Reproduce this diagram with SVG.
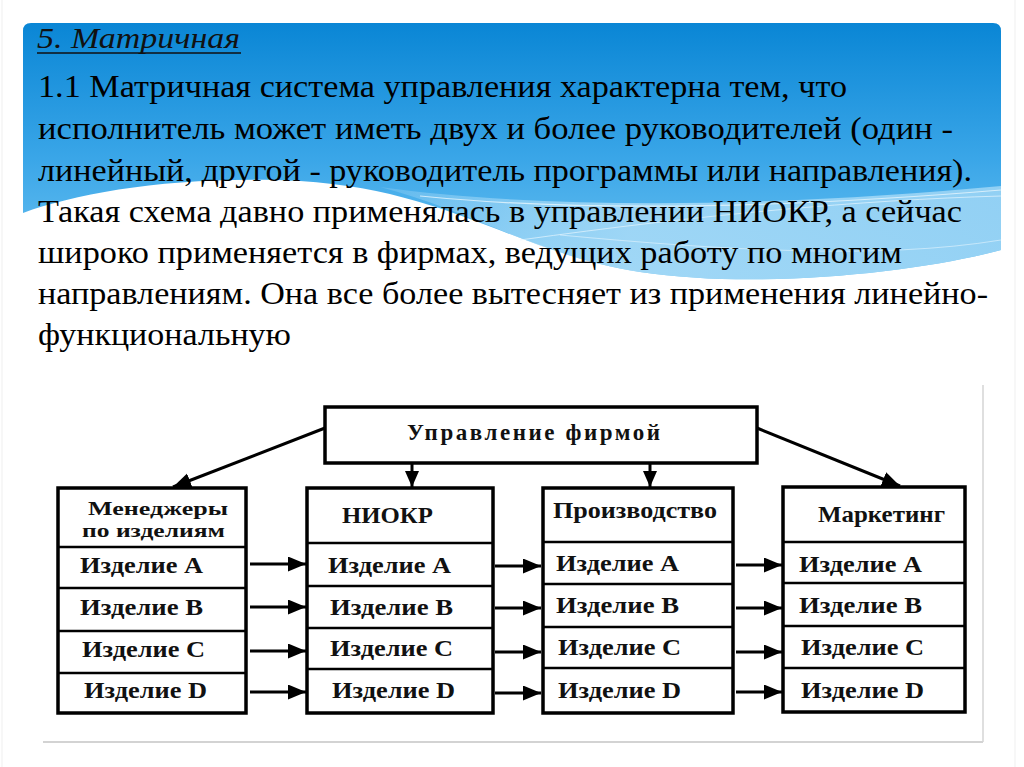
<svg xmlns="http://www.w3.org/2000/svg" width="1024" height="767" viewBox="0 0 1024 767">
<defs>
<linearGradient id="blue" x1="0" y1="23" x2="0" y2="270" gradientUnits="userSpaceOnUse">
<stop offset="0" stop-color="#0a86d5"/>
<stop offset="0.55" stop-color="#3aa6e8"/>
<stop offset="1" stop-color="#6cc2f1"/>
</linearGradient>
<linearGradient id="light" x1="380" y1="0" x2="1001" y2="0" gradientUnits="userSpaceOnUse">
<stop offset="0" stop-color="#bfe5fa" stop-opacity="0.2"/>
<stop offset="0.4" stop-color="#a9dbf7" stop-opacity="0.85"/>
<stop offset="1" stop-color="#9ad4f5" stop-opacity="0.9"/>
</linearGradient>
<marker id="ah" markerUnits="userSpaceOnUse" markerWidth="20" markerHeight="16" refX="18" refY="7.5" orient="auto">
<path d="M0,0 L18,7.5 L0,15 z" fill="#000"/>
</marker>
<marker id="av" markerUnits="userSpaceOnUse" markerWidth="18" markerHeight="16" refX="16" refY="7" orient="auto">
<path d="M0,0 L16,7 L0,14 z" fill="#000"/>
</marker>
<style>
.body{font-size:31px;fill:#000}
.head{font-size:30px;font-style:italic;fill:#111}
.box{fill:#fff;stroke:#000;stroke-width:3.5}
.div{stroke:#000;stroke-width:2.5}
.lbl{font-size:24px;font-weight:bold;fill:#111}
.hdr{font-size:23px;font-weight:bold;fill:#111}
.hdr2{font-size:19px;font-weight:bold;fill:#111}
.con{stroke:#000;stroke-width:3;fill:none}
</style>
</defs>
<rect width="1024" height="767" fill="#fff"/>
<line x1="2" y1="0" x2="2" y2="767" stroke="#efefef" stroke-width="1"/>
<line x1="1015" y1="0" x2="1015" y2="767" stroke="#efefef" stroke-width="1"/>

<g id="banner">
<path d="M23,213 L23,31 Q23,23 31,23 L993,23 Q1001,23 1001,31 L1001,250 C920,272 760,290 640,272 C520,254 450,190 300,181 C180,175 80,192 23,213 Z" fill="url(#blue)"/>
<path d="M380,187 C560,212 800,205 1001,186 L1001,250 C920,272 760,290 640,272 C540,257 470,210 380,187 Z" fill="url(#light)"/>
<path d="M420,196 C600,214 820,205 1001,190" stroke="#e6f5fd" stroke-width="1.2" fill="none" opacity="0.8"/>
<path d="M520,240 C700,215 860,200 1001,196" stroke="#e6f5fd" stroke-width="1" fill="none" opacity="0.7"/>
<path d="M560,235 C720,250 880,260 1001,240" stroke="#e6f5fd" stroke-width="1" fill="none" opacity="0.6"/>
</g>

<g id="text" font-family="Liberation Serif, Times New Roman, serif">
<text class="head" x="37" y="48" textLength="203" lengthAdjust="spacingAndGlyphs">5. Матричная</text>
<line x1="37" y1="53" x2="241" y2="53" stroke="#111" stroke-width="1.6"/>
<text class="body" x="38" y="97" textLength="809" lengthAdjust="spacingAndGlyphs">1.1 Матричная система управления характерна тем, что</text>
<text class="body" x="38" y="139" textLength="915" lengthAdjust="spacingAndGlyphs">исполнитель может иметь двух и более руководителей (один -</text>
<text class="body" x="38" y="181" textLength="934" lengthAdjust="spacingAndGlyphs">линейный, другой - руководитель программы или направления).</text>
<text class="body" x="38" y="222" textLength="924" lengthAdjust="spacingAndGlyphs">Такая схема давно применялась в управлении НИОКР, а сейчас</text>
<text class="body" x="38" y="263" textLength="864" lengthAdjust="spacingAndGlyphs">широко применяется в фирмах, ведущих работу по многим</text>
<text class="body" x="38" y="304" textLength="950" lengthAdjust="spacingAndGlyphs">направлениям. Она все более вытесняет из применения линейно-</text>
<text class="body" x="38" y="345" textLength="253" lengthAdjust="spacingAndGlyphs">функциональную</text>
</g>

<g id="frame">
<line x1="43" y1="742" x2="983" y2="742" stroke="#c4c4c4" stroke-width="1.5"/>
<line x1="983" y1="385" x2="983" y2="742" stroke="#d4d4d4" stroke-width="1.5"/>
</g>

<g font-family="Liberation Serif, Times New Roman, serif">
<g id="top">
<rect class="box" x="325" y="407" width="432" height="56"/>
<text class="hdr" x="407" y="440" textLength="253" lengthAdjust="spacing">Управление   фирмой</text>
</g>

<g id="managers">
<rect class="box" x="58" y="488" width="188" height="225"/>
<line class="div" x1="58" y1="547" x2="246" y2="547"/>
<line class="div" x1="58" y1="588" x2="246" y2="588"/>
<line class="div" x1="58" y1="631" x2="246" y2="631"/>
<line class="div" x1="58" y1="673" x2="246" y2="673"/>
<text class="hdr2" x="88" y="515" textLength="140" lengthAdjust="spacingAndGlyphs">Менеджеры</text>
<text class="hdr2" x="82" y="537" textLength="143" lengthAdjust="spacingAndGlyphs">по изделиям</text>
<text class="lbl" x="80" y="573" textLength="123" lengthAdjust="spacingAndGlyphs">Изделие A</text>
<text class="lbl" x="80" y="615" textLength="123" lengthAdjust="spacingAndGlyphs">Изделие B</text>
<text class="lbl" x="82" y="657" textLength="123" lengthAdjust="spacingAndGlyphs">Изделие C</text>
<text class="lbl" x="84" y="698" textLength="123" lengthAdjust="spacingAndGlyphs">Изделие D</text>
</g>

<g id="niokr">
<rect class="box" x="307" y="488" width="186" height="225"/>
<line class="div" x1="307" y1="543" x2="493" y2="543"/>
<line class="div" x1="307" y1="586" x2="493" y2="586"/>
<line class="div" x1="307" y1="628" x2="493" y2="628"/>
<line class="div" x1="307" y1="669" x2="493" y2="669"/>
<text class="hdr" x="342" y="523" textLength="91" lengthAdjust="spacingAndGlyphs">НИОКР</text>
<text class="lbl" x="328" y="573" textLength="123" lengthAdjust="spacingAndGlyphs">Изделие A</text>
<text class="lbl" x="330" y="615" textLength="123" lengthAdjust="spacingAndGlyphs">Изделие B</text>
<text class="lbl" x="330" y="656" textLength="123" lengthAdjust="spacingAndGlyphs">Изделие C</text>
<text class="lbl" x="332" y="698" textLength="123" lengthAdjust="spacingAndGlyphs">Изделие D</text>
</g>

<g id="production">
<rect class="box" x="543" y="488" width="190" height="225"/>
<line class="div" x1="543" y1="542" x2="733" y2="542"/>
<line class="div" x1="543" y1="584" x2="733" y2="584"/>
<line class="div" x1="543" y1="627" x2="733" y2="627"/>
<line class="div" x1="543" y1="668" x2="733" y2="668"/>
<text class="hdr" x="553" y="518" textLength="164" lengthAdjust="spacingAndGlyphs">Производство</text>
<text class="lbl" x="556" y="571" textLength="123" lengthAdjust="spacingAndGlyphs">Изделие A</text>
<text class="lbl" x="556" y="613" textLength="123" lengthAdjust="spacingAndGlyphs">Изделие B</text>
<text class="lbl" x="558" y="655" textLength="123" lengthAdjust="spacingAndGlyphs">Изделие C</text>
<text class="lbl" x="558" y="698" textLength="123" lengthAdjust="spacingAndGlyphs">Изделие D</text>
</g>

<g id="marketing">
<rect class="box" x="783" y="487" width="182" height="225"/>
<line class="div" x1="783" y1="542" x2="965" y2="542"/>
<line class="div" x1="783" y1="583" x2="965" y2="583"/>
<line class="div" x1="783" y1="626" x2="965" y2="626"/>
<line class="div" x1="783" y1="668" x2="965" y2="668"/>
<text class="hdr" x="818" y="522" textLength="127" lengthAdjust="spacingAndGlyphs">Маркетинг</text>
<text class="lbl" x="799" y="572" textLength="123" lengthAdjust="spacingAndGlyphs">Изделие A</text>
<text class="lbl" x="799" y="613" textLength="123" lengthAdjust="spacingAndGlyphs">Изделие B</text>
<text class="lbl" x="801" y="655" textLength="123" lengthAdjust="spacingAndGlyphs">Изделие C</text>
<text class="lbl" x="801" y="698" textLength="123" lengthAdjust="spacingAndGlyphs">Изделие D</text>
</g>
</g>

<g id="connectors">
<line class="con" x1="325" y1="428" x2="173" y2="487" marker-end="url(#ah)"/>
<line class="con" x1="757" y1="428" x2="900" y2="486" marker-end="url(#ah)"/>
<line class="con" x1="412" y1="463" x2="412" y2="487" marker-end="url(#av)"/>
<line class="con" x1="650" y1="463" x2="650" y2="487" marker-end="url(#av)"/>
<line class="con" x1="250" y1="564" x2="306" y2="564" marker-end="url(#ah)"/>
<line class="con" x1="250" y1="607" x2="306" y2="607" marker-end="url(#ah)"/>
<line class="con" x1="250" y1="651" x2="306" y2="651" marker-end="url(#ah)"/>
<line class="con" x1="250" y1="692" x2="306" y2="692" marker-end="url(#ah)"/>
<line class="con" x1="495" y1="566" x2="541" y2="566" marker-end="url(#ah)"/>
<line class="con" x1="495" y1="608" x2="541" y2="608" marker-end="url(#ah)"/>
<line class="con" x1="495" y1="652" x2="541" y2="652" marker-end="url(#ah)"/>
<line class="con" x1="495" y1="693" x2="541" y2="693" marker-end="url(#ah)"/>
<line class="con" x1="736" y1="565" x2="782" y2="565" marker-end="url(#ah)"/>
<line class="con" x1="736" y1="608" x2="782" y2="608" marker-end="url(#ah)"/>
<line class="con" x1="736" y1="652" x2="782" y2="652" marker-end="url(#ah)"/>
<line class="con" x1="736" y1="692" x2="782" y2="692" marker-end="url(#ah)"/>
</g>
</svg>
